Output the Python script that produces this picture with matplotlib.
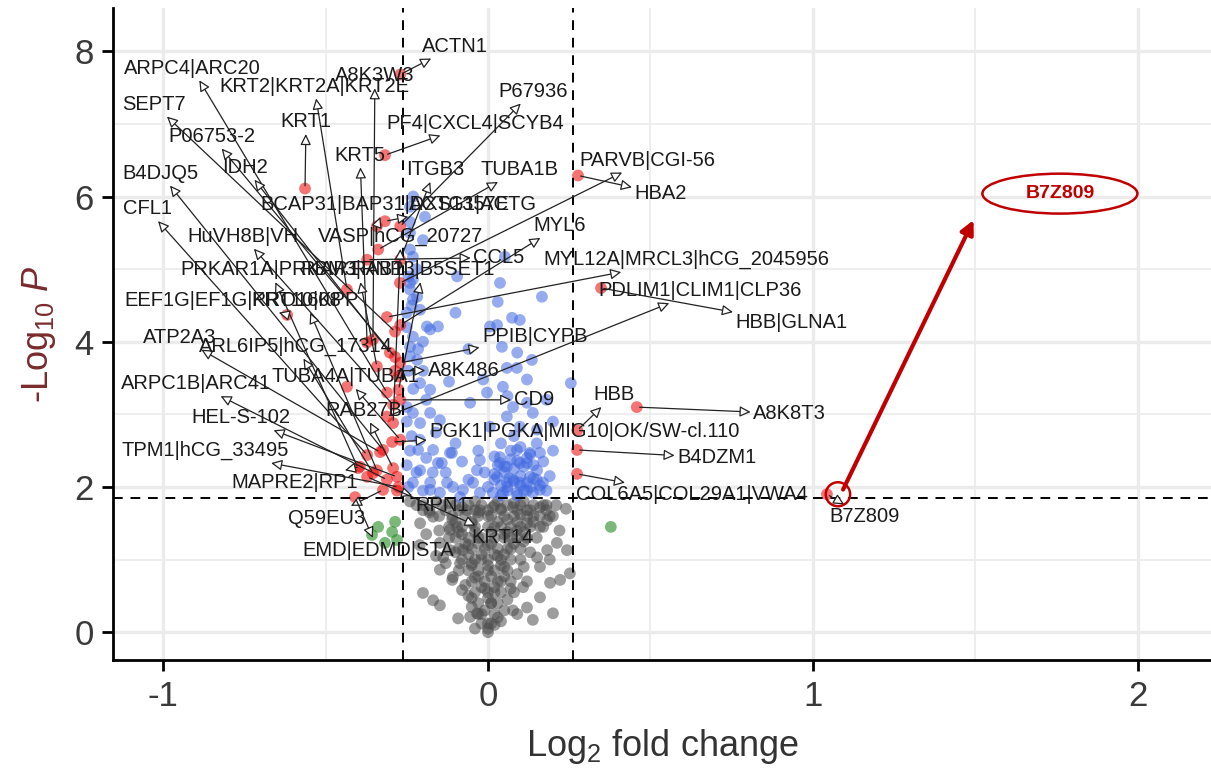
import matplotlib
matplotlib.use("Agg")
import matplotlib.pyplot as plt
from matplotlib.patches import Ellipse

plt.rcParams['font.family'] = ['Liberation Sans', 'DejaVu Sans']
plt.rcParams['mathtext.fontset'] = 'custom'
plt.rcParams['mathtext.rm'] = 'Liberation Sans'
plt.rcParams['mathtext.it'] = 'Liberation Sans:italic'
plt.rcParams['axes.unicode_minus'] = False

# thresholds
fc_cut = 0.263
p_cut = 1.85

# not significant (grey)
gray_x = [-0.2, -0.169, -0.209, -0.117, -0.095, -0.065, -0.025, 0.015, 0.077, 0.12, 0.16, 0.182,
          0.212, 0.243, 0.182, 0.151, -0.148, -0.117, -0.077, -0.138, -0.086, -0.148, -0.108, -0.2,
          -0.169, -0.148, -0.092, -0.055, 0.0, 0.2, 0.138, 0.12, 0.16, 0.222, 0.252, 0.191, 0.108,
          -0.034, 0.077,
          0.0, 0.02, -0.02, 0.03, -0.03, 0.05, -0.05, 0.01, 0.06, -0.06, 0.02, -0.01, 0.07, -0.07,
          0.04, -0.04, 0.09, -0.09, 0.0, 0.05, -0.05, 0.1, -0.02, 0.03, -0.1, 0.07, -0.06, 0.0, 0.11,
          -0.03, 0.05, -0.08, 0.09, 0.02, -0.05, 0.12, -0.11, 0.06, 0.0, -0.03, 0.1, 0.04, -0.08, 0.14,
          0.08, -0.12, -0.04, 0.03, 0.11, -0.16, 0.18, 0.07, -0.12, 0.13, -0.13, 0.08, -0.08, 0.11,
          0.15, -0.15, 0.17, -0.18, 0.2, -0.22, 0.24, -0.24, 0.22, -0.21, 0.04, -0.04, 0.09, -0.01,
          0.12, -0.11, 0.16, -0.16, 0.19, -0.19,
          -0.2, -0.14, -0.1, -0.06, -0.02, 0.02, 0.06, 0.1, 0.14, 0.17, 0.21,
          -0.15, -0.11, -0.07, -0.03, 0.01, 0.05, 0.08, 0.12, 0.16, 0.19,
          -0.12, -0.08, -0.04, 0.0, 0.04, 0.07, 0.1, 0.13, 0.16,
          -0.1, -0.06, -0.02, 0.02, 0.05, 0.09, 0.12,
          -0.09, -0.05, -0.01, 0.03, 0.06, 0.1,
          -0.08, -0.04, 0.0, 0.04, 0.07,
          -0.06, -0.03, 0.02, 0.06,
          -0.05, -0.01, 0.03, 0.07,
          -0.04, 0.0, 0.04,
          -0.03, 0.01, 0.03,
          -0.02, 0.02, 0.0, 0.01,
          -0.18, -0.13, -0.09, -0.04, 0.0, 0.04, 0.09, 0.13, 0.18,
          -0.1, -0.05, 0.03, 0.09, 0.14,
          -0.09, -0.04, 0.01, 0.06, 0.11,
          -0.07, -0.03, 0.01, 0.08,
          -0.06, -0.02, 0.02, 0.05,
          -0.05, 0.0, 0.04,
          -0.03, 0.01, 0.05,
          -0.02, 0.02, 0.0, -0.05]
gray_y = [1.68, 1.59, 1.50, 1.41, 1.45, 1.68, 1.68, 1.72, 1.72, 1.68, 1.72, 1.54,
          1.23, 1.13, 1.13, 1.03, 1.23, 1.13, 1.13, 1.03, 0.95, 0.86, 0.76, 0.54,
          0.44, 0.37, 0.19, 0.21, 0.0, 0.26, 0.17, 0.34, 0.48, 0.72, 0.81, 0.68, 0.62,
          0.26, 0.30,
          0.05, 0.1, 0.12, 0.2, 0.25, 0.3, 0.35, 0.4, 0.45, 0.5, 0.55, 0.6, 0.6, 0.65,
          0.7, 0.75, 0.8, 0.85, 0.85, 0.9, 0.95, 1.0, 1.0, 1.05, 1.1, 1.15, 1.2, 1.2, 1.25,
          1.3, 1.35, 1.35, 1.4, 1.45, 1.5, 1.5, 1.55, 1.55, 1.6, 1.65, 1.62, 1.7, 1.72, 1.6,
          1.78, 1.78, 1.8, 1.8, 1.8, 1.8, 1.75, 1.3, 1.3, 1.1, 0.95, 0.55, 0.58, 0.9,
          1.3, 1.4, 1.45, 1.65, 1.6, 1.75, 1.7, 1.8, 1.4, 1.2, 0.15, 0.05, 0.25, 0.3,
          0.7, 0.72, 0.9, 1.05, 1.0, 1.35,
          1.75, 1.75, 1.75, 1.75, 1.75, 1.75, 1.75, 1.75, 1.75, 1.75, 1.75,
          1.6, 1.6, 1.6, 1.6, 1.6, 1.6, 1.6, 1.6, 1.6, 1.6,
          1.45, 1.45, 1.45, 1.45, 1.45, 1.45, 1.45, 1.45, 1.45,
          1.3, 1.3, 1.3, 1.3, 1.3, 1.3, 1.3,
          1.15, 1.15, 1.15, 1.15, 1.15, 1.15,
          1.0, 1.0, 1.0, 1.0, 1.0,
          0.85, 0.85, 0.85, 0.85,
          0.7, 0.7, 0.7, 0.7,
          0.55, 0.55, 0.55,
          0.4, 0.4, 0.4,
          0.25, 0.25, 0.12, 0.12,
          1.68, 1.68, 1.68, 1.68, 1.68, 1.68, 1.68, 1.68, 1.68,
          1.52, 1.52, 1.52, 1.52, 1.52,
          1.38, 1.38, 1.38, 1.38, 1.38,
          1.22, 1.22, 1.22, 1.22,
          1.07, 1.07, 1.07, 1.07,
          0.92, 0.92, 0.92,
          0.77, 0.77, 0.77,
          0.62, 0.62, 0.47, 0.47]

# log2FC only (green)
green_x = [-0.338, -0.286, -0.357, -0.317, -0.28, -0.295, 0.378]
green_y = [1.45, 1.52, 1.34, 1.23, 1.27, 1.38, 1.45]

# p-value only (blue)
blue_x = [-0.231, 0.037, 0.166, -0.231, -0.209, -0.178, -0.154, 0.028, 0.074, 0.098, -0.231, -0.24,
          -0.218, 0.043, 0.135, 0.058, 0.089, 0.12, -0.015, -0.209, -0.178, -0.055, -0.003, 0.046,
          0.077, 0.12, 0.138, 0.255, -0.231, -0.178, -0.209, -0.148, 0.058, 0.006, 0.098, 0.151,
          -0.215, -0.169, -0.117, -0.034, 0.037, 0.089, 0.12, 0.16, -0.209, -0.154, 0.028, 0.058,
          0.098, 0.129, 0.16, -0.126, -0.077, -0.178, -0.231, -0.24, -0.194, -0.24, -0.095, -0.24,
          -0.218, -0.188, 0.006, 0.052, -0.24, -0.231, -0.142, -0.111, -0.025, -0.046, -0.108,
          -0.178, -0.148, 0.037, 0.058, 0.098, 0.129, 0.151, 0.077, 0.12, 0.046, 0.089, 0.138,
          0.015, 0.169, -0.025, -0.086, 0.05, 0.08, 0.1, 0.06, 0.11, 0.13, 0.07, 0.03, 0.12, 0.09,
          0.15, 0.04, 0.14, 0.10, 0.065, 0.02, -0.25, -0.245, -0.25, -0.235, -0.25, -0.24, -0.22,
          -0.2, -0.19, -0.22, -0.2, -0.245,
          0.0, 0.02, 0.04, 0.06, 0.08, 0.1, 0.12, 0.14, 0.16, 0.18, 0.05, 0.09, 0.11, 0.13, 0.17,
          0.07, 0.02, 0.19, -0.01, 0.2, 0.15, 0.08, 0.04,
          -0.245, -0.235, -0.25, -0.24, -0.23, -0.25, -0.24, -0.215, -0.2, -0.21, -0.19, -0.17,
          -0.16, -0.13, -0.1, -0.06, -0.08, -0.03, -0.12, -0.06, -0.1, 0.03, 0.09, 0.18, 0.2, 0.06,
          -0.24, -0.23, -0.2]
blue_y = [5.17, 4.81, 4.62, 4.58, 4.44, 4.17, 4.21, 4.23, 4.33, 4.30, 4.07, 3.93,
          3.75, 3.93, 3.75, 3.64, 3.64, 3.48, 3.48, 3.43, 3.34, 3.16, 3.30, 3.38,
          3.10, 3.16, 3.02, 3.43, 3.02, 3.02, 2.88, 2.92, 2.97, 2.83, 2.83, 2.79,
          2.51, 2.51, 2.47, 2.23, 2.33, 2.51, 2.33, 2.47, 2.23, 2.33, 2.14, 2.06,
          2.06, 2.14, 1.96, 2.06, 1.96, 1.96, 2.06, 5.86, 5.72, 5.27, 4.90, 4.81,
          4.62, 4.21, 4.21, 5.17, 4.72, 4.86, 2.33, 2.47, 2.37, 2.06, 2.0,
          2.06, 1.92, 2.41, 2.28, 2.33, 2.47, 2.23, 2.10, 2.06, 1.92, 1.92, 1.92,
          1.92, 2.06, 1.92, 1.86, 2.2, 2.25, 2.15, 2.0, 1.95, 2.0, 2.38, 2.3, 2.4, 1.88,
          2.1, 1.88, 2.3, 2.55, 2.12, 2.18, 4.4, 3.6, 3.1, 2.7, 2.3, 5.5, 5.0,
          4.0, 3.2, 2.2, 1.95, 2.0,
          2.0, 2.1, 2.02, 1.95, 2.08, 2.02, 1.95, 2.12, 2.02, 1.95, 2.28, 2.36, 2.28, 2.45, 2.35,
          2.5, 2.42, 2.15, 2.2, 2.5, 2.6, 2.7, 2.6,
          4.9, 4.5, 4.2, 3.8, 3.35, 2.9, 2.5, 3.9, 3.6, 2.65, 2.4, 2.2,
          2.75, 2.2, 2.6, 2.1, 2.35, 2.5, 3.45, 3.9, 4.4, 4.55, 3.85, 3.2, 2.9, 3.25,
          5.65, 6.0, 5.4]

# p-value and log2FC (red)
red_x = [-0.563, -0.317, -0.27, -0.317, -0.27, -0.342, -0.338, -0.372, -0.27, -0.434, -0.618,
         -0.271, -0.311, -0.27, -0.286, -0.354, -0.372, -0.302, -0.286, -0.342, -0.27, -0.275,
         -0.434, -0.311, -0.275, -0.292, -0.311, -0.292, -0.27, -0.295, -0.323, -0.372, -0.332,
         -0.40, -0.342, -0.292, -0.372, -0.311, -0.28, -0.323, -0.275, -0.409, -0.394, -0.354,
         -0.28, -0.27, -0.286,
         0.277, 0.348, 0.458, 0.274, 0.274, 0.275, 1.043]
red_y = [6.11, 6.57, 7.68, 5.66, 5.59, 5.59, 5.27, 5.13, 5.13, 4.72, 4.37,
         4.81, 4.34, 4.23, 4.14, 4.03, 3.99, 3.85, 3.79, 3.66, 3.71, 3.52,
         3.38, 3.30, 3.34, 3.13, 2.97, 2.88, 2.65, 2.62, 2.51, 2.44, 2.48,
         2.26, 2.23, 2.26, 2.14, 2.10, 2.14, 1.96, 2.0, 1.86, 2.28, 2.19,
         1.95, 3.2, 3.6,
         6.29, 4.74, 3.10, 2.51, 2.18, 2.78, 1.90]

# labelled proteins: point position and label position
lab_names = ['ARPC4|ARC20', 'KRT2|KRT2A|KRT2E', 'A8K3W3', 'ACTN1', 'SEPT7', 'P06753-2', 'KRT1',
             'PF4|CXCL4|SCYB4', 'P67936', 'IDH2', 'KRT5', 'B4DJQ5', 'CFL1', 'BCAP31|BAP31|DXS1357E',
             'ACTG1|ACTG', 'ITGB3', 'TUBA1B', 'PARVB|CGI-56', 'HBA2', 'HuVH8B|VH', 'VASP|hCG_20727',
             'MYL6', 'CCL5', 'MYL12A|MRCL3|hCG_2045956', 'PRKAR1A|PRKAR1', 'RBM3|RNPL', 'RAB13|B5SET1',
             'EEF1G|EF1G|PRO1608', 'KRT10|KPP', 'ATP2A3', 'ARL6IP5|hCG_17314', 'ARPC1B|ARC41',
             'TUBA4A|TUBA1', 'HEL-S-102', 'RAB27B', 'TPM1|hCG_33495', 'MAPRE2|RP1', 'Q59EU3',
             'EMD|EDMD|STA', 'RPN1', 'KRT14', 'PPIB|CYPB', 'A8K486', 'CD9',
             'PGK1|PGKA|MIG10|OK/SW-cl.110', 'HBB', 'A8K8T3', 'B4DZM1', 'COL6A5|COL29A1|VWA4',
             'B7Z809', 'PDLIM1|CLIM1|CLP36', 'HBB|GLNA1']
lab_px = [-0.311, -0.434, -0.354, -0.27, -0.286, -0.286, -0.563, -0.317, -0.27, -0.302, -0.372,
          -0.323, -0.372, -0.342, -0.317, -0.27, -0.338, -0.271, 0.277, -0.292, -0.292, -0.27,
          -0.372, -0.311, -0.40, -0.342, -0.275, -0.618, -0.342, -0.332, -0.354, -0.311, -0.27,
          -0.28, -0.292, -0.275, -0.394, -0.323, -0.409, -0.28, -0.372, -0.27, -0.286, -0.27,
          -0.295, 0.275, 0.458, 0.274, 0.274, 1.043, -0.311, 0.348]
lab_py = [3.30, 4.72, 4.03, 7.68, 4.14, 3.79, 6.11, 6.57, 5.59, 3.85, 3.99,
          2.51, 2.44, 5.59, 5.66, 5.13, 5.27, 4.81, 6.29, 3.13, 2.88, 4.23,
          5.13, 4.34, 2.26, 3.66, 3.34, 4.37, 2.23, 2.48, 2.19, 2.10, 2.65,
          2.14, 2.26, 2.0, 2.28, 1.96, 1.86, 1.95, 2.14, 3.71, 3.6, 3.2,
          2.62, 2.78, 3.10, 2.51, 2.18, 1.90, 2.97, 4.74]
lab_tx = [-0.911, -0.535, -0.348, -0.102, -1.028, -0.851, -0.56, -0.04, 0.138, -0.748, -0.394,
          -1.009, -1.049, -0.317, -0.046, -0.163, 0.098, 0.489, 0.532, -0.754, -0.268, 0.222,
          0.034, 0.609, -0.671, -0.40, -0.20, -0.785, -0.563, -0.948, -0.591, -0.898, -0.44,
          -0.76, -0.382, -0.871, -0.594, -0.498, -0.338, -0.142, 0.046, 0.145, -0.074, 0.142,
          0.298, 0.388, 0.929, 0.705, 0.628, 1.16, 0.652, 0.935]
lab_ty = [7.77, 7.52, 7.66, 8.07, 7.27, 6.83, 7.03, 7.01, 7.45, 6.40, 6.57,
          6.32, 5.83, 5.89, 5.89, 6.37, 6.37, 6.50, 6.04, 5.45, 5.45, 5.60,
          5.16, 5.13, 4.99, 4.99, 4.99, 4.57, 4.57, 4.06, 3.94, 3.42, 3.52,
          2.95, 3.06, 2.50, 2.06, 1.57, 1.13, 1.75, 1.30, 4.07, 3.61, 3.20,
          2.76, 3.27, 3.01, 2.40, 1.89, 1.59, 4.70, 4.26]

# highlighted protein callout
hl_name = 'B7Z809'
hl_x, hl_y = 1.043, 1.90
callout_x, callout_y = 1.76, 6.04

fig = plt.figure(figsize=(12.11, 7.74), dpi=100)
ax = fig.add_axes([0.0933, 0.147, 0.9067, 0.843])

ax.set_xlim(-1.154, 2.225)
ax.set_ylim(-0.386, 8.6)
ax.set_xticks([-1, 0, 1, 2])
ax.set_xticks([-0.5, 0.5, 1.5], minor=True)
ax.set_yticks([0, 2, 4, 6, 8])
ax.set_yticks([1, 3, 5, 7], minor=True)
ax.grid(which='major', color='#ebebeb', lw=2.4)
ax.grid(which='minor', color='#ebebeb', lw=1.2)
ax.set_axisbelow(True)

for s in ['top', 'right']:
    ax.spines[s].set_visible(False)
for s in ['left', 'bottom']:
    ax.spines[s].set_linewidth(2)
ax.tick_params(which='major', length=8, width=2, labelsize=25, labelcolor='#3a3a3a', pad=6)
ax.tick_params(which='minor', length=0)

ax.scatter(gray_x, gray_y, s=72, c='#4d4d4d', alpha=0.55, edgecolors='none', zorder=2)
ax.scatter(green_x, green_y, s=72, c='#228b22', alpha=0.6, edgecolors='none', zorder=2)
ax.scatter(blue_x, blue_y, s=72, c='#4169e1', alpha=0.55, edgecolors='none', zorder=2)
ax.scatter(red_x, red_y, s=72, c='#ee0000', alpha=0.55, edgecolors='none', zorder=3)

ax.axvline(-fc_cut, color='black', ls='--', lw=1.4, dashes=(5, 4), zorder=3)
ax.axvline(fc_cut, color='black', ls='--', lw=1.4, dashes=(5, 4), zorder=3)
ax.axhline(p_cut, color='black', ls='--', lw=1.4, dashes=(5, 4), zorder=3)

for name, gx, gy, tx, ty in zip(lab_names, lab_px, lab_py, lab_tx, lab_ty):
    ax.annotate(name, xy=(gx, gy), xytext=(tx, ty), ha='center', va='center',
                fontsize=14.5, color='#1a1a1a', zorder=5,
                arrowprops=dict(arrowstyle='<|-,head_length=0.45,head_width=0.22',
                                ec='#222222', fc='white', lw=0.9, shrinkA=0, shrinkB=2))

# red callout
ax.add_patch(Ellipse((hl_x + 0.034, hl_y), width=0.075, height=0.33, fill=False,
                     ec='#c00000', lw=1.8, zorder=6))
ax.annotate('', xy=(1.498, 5.71), xytext=(hl_x + 0.046, hl_y + 0.03),
            arrowprops=dict(arrowstyle='-|>,head_length=0.8,head_width=0.4',
                            color='#c00000', lw=3), zorder=6)
ax.add_patch(Ellipse((callout_x, callout_y), width=0.477, height=0.55, fill=False,
                     ec='#c00000', lw=1.8, zorder=6))
ax.text(callout_x, callout_y, hl_name, color='#c00000', fontweight='bold', fontsize=14,
        ha='center', va='center', zorder=6)

ax.set_xlabel(r'Log$_2$ fold change', fontsize=26, color='#333333', labelpad=10)
ax.set_ylabel(r'-Log$_{10}$ $\mathit{P}$', fontsize=26, color='#7a2a2a', labelpad=12)

fig.savefig('out.png', dpi=100)
